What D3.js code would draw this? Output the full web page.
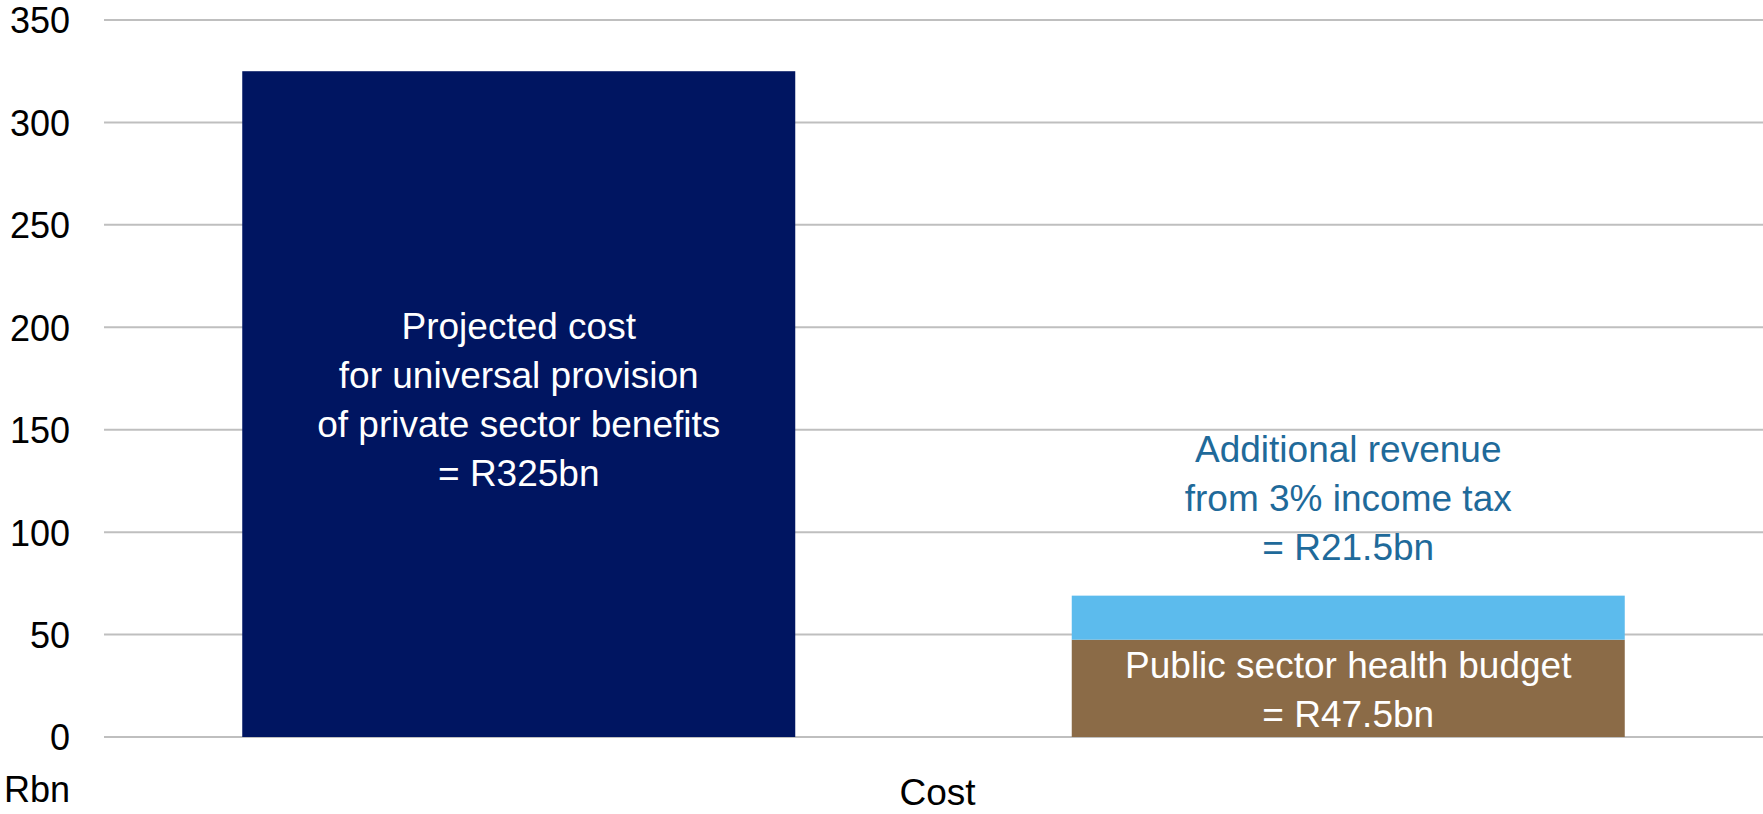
<!DOCTYPE html>
<html>
<head>
<meta charset="utf-8">
<script src="https://cdn.jsdelivr.net/npm/d3@7"></script>
<style>
  html, body { margin: 0; padding: 0; background: #ffffff; }
  svg { display: block; font-family: "Liberation Sans", Arial, sans-serif; }
</style>
</head>
<body>
<svg id="chart" width="1763" height="814"></svg>
<script>
// Category and series values (R billion)
const categories = ["Cost"];
const groups = ["universal", "funding"];
const projectedCost = [325];
const publicBudget = [47.5];
const additionalRevenue = [21.5];
const yTicks = [0, 50, 100, 150, 200, 250, 300, 350];
const yUnit = "Rbn";

const colors = {
  cost: "#001561",
  budget: "#8B6B47",
  revenue: "#5CBBED",
  revenueText: "#1F6A9A",
  grid: "#BFBFBF"
};

const width = 1763, height = 814;
const plot = { left: 104, right: 1763, top: 20, bottom: 737 };
const tickFont = 36;
const labelFont = 37;
const lineHeight = 49;

const svg = d3.select("#chart");

const y = d3.scaleLinear().domain([0, 350]).range([plot.bottom, plot.top]);
const x0 = d3.scaleBand().domain(categories).range([plot.left, plot.right]).padding(0);
const x1 = d3.scaleBand().domain(groups).range([0, x0.bandwidth()])
  .paddingInner(1 / 3).paddingOuter(1 / 6);

// Horizontal gridlines
svg.append("g")
  .selectAll("line")
  .data(yTicks)
  .join("line")
  .attr("x1", plot.left)
  .attr("x2", plot.right)
  .attr("y1", d => y(d))
  .attr("y2", d => y(d))
  .attr("stroke", colors.grid)
  .attr("stroke-width", 2);

// Y axis tick labels
const yAxis = d3.axisLeft(y).tickValues(yTicks).tickSize(0).tickPadding(0);
const yAxisG = svg.append("g")
  .attr("transform", `translate(70,0)`)
  .call(yAxis);
yAxisG.select(".domain").remove();
yAxisG.selectAll("text")
  .attr("font-size", tickFont)
  .attr("font-family", "Liberation Sans, Arial, sans-serif")
  .attr("fill", "#000")
  .attr("dy", "0.36em");

// Unit label below the axis
svg.append("text")
  .attr("x", 70)
  .attr("y", 802)
  .attr("text-anchor", "end")
  .attr("font-size", tickFont)
  .attr("fill", "#000")
  .text(yUnit);

// Category axis label
const xAxis = d3.axisBottom(x0).tickSize(0).tickPadding(0);
const xAxisG = svg.append("g")
  .attr("transform", `translate(4,${plot.bottom})`)
  .call(xAxis);
xAxisG.select(".domain").remove();
xAxisG.selectAll("text")
  .attr("font-size", labelFont)
  .attr("font-family", "Liberation Sans, Arial, sans-serif")
  .attr("fill", "#000")
  .attr("dy", null)
  .attr("y", 68);

const cat = svg.append("g").attr("transform", `translate(${x0(categories[0])},0)`);

// Projected cost bar
cat.selectAll("rect.cost")
  .data(projectedCost)
  .join("rect")
  .attr("class", "cost")
  .attr("x", x1("universal"))
  .attr("width", x1.bandwidth())
  .attr("y", d => y(d))
  .attr("height", d => y(0) - y(d))
  .attr("fill", colors.cost);

// Stacked funding bar: public budget + additional revenue
const stackData = [{ budget: publicBudget[0], revenue: additionalRevenue[0] }];
const stacked = d3.stack().keys(["budget", "revenue"])(stackData);
cat.selectAll("g.layer")
  .data(stacked)
  .join("g")
  .attr("class", "layer")
  .attr("fill", d => colors[d.key])
  .selectAll("rect")
  .data(d => d)
  .join("rect")
  .attr("x", x1("funding"))
  .attr("width", x1.bandwidth())
  .attr("y", d => y(d[1]))
  .attr("height", d => y(d[0]) - y(d[1]));

// Multi-line labels
function multiline(cx, firstBaseline, lines, fill) {
  const t = cat.append("text")
    .attr("text-anchor", "middle")
    .attr("font-size", labelFont)
    .attr("fill", fill);
  lines.forEach((s, i) => {
    t.append("tspan")
      .attr("x", cx)
      .attr("y", firstBaseline + i * lineHeight)
      .text(s);
  });
}

const cxCost = x1("universal") + x1.bandwidth() / 2;
const cxFund = x1("funding") + x1.bandwidth() / 2;

multiline(cxCost, y(projectedCost[0] / 2) - 65,
  ["Projected cost", "for universal provision", "of private sector benefits", `= R${projectedCost[0]}bn`],
  "#ffffff");

multiline(cxFund, y(publicBudget[0] / 2) - 10,
  ["Public sector health budget", `= R${publicBudget[0]}bn`],
  "#ffffff");

multiline(cxFund, y(publicBudget[0] + additionalRevenue[0]) - 134,
  ["Additional revenue", "from 3% income tax", `= R${additionalRevenue[0]}bn`],
  colors.revenueText);
</script>
</body>
</html>
